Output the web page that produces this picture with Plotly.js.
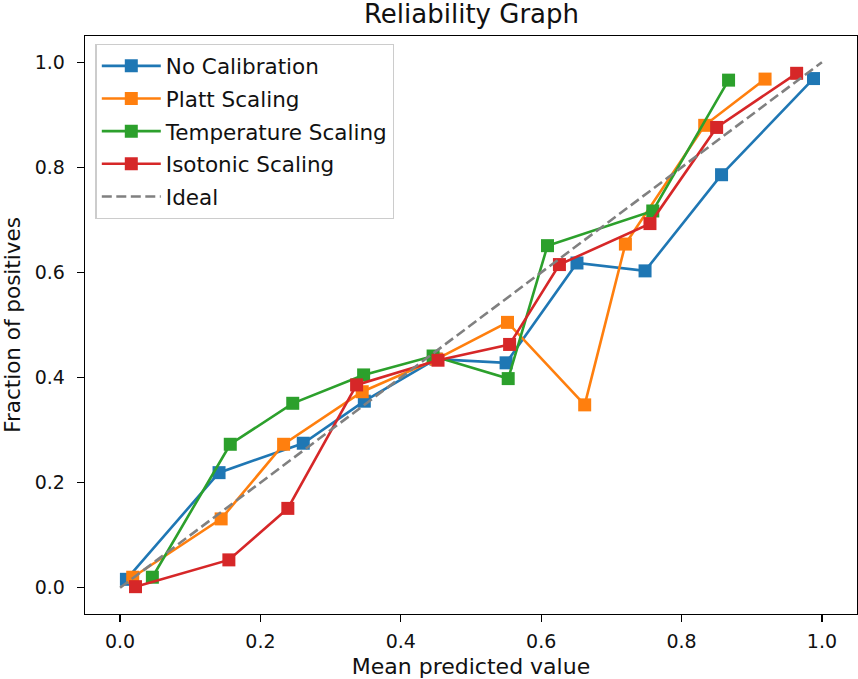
<!DOCTYPE html>
<html>
<head>
<meta charset="utf-8">
<script src="https://cdn.plot.ly/plotly-3.0.1.min.js"></script>
<style>html,body{margin:0;padding:0;overflow:hidden;background:#fff}</style>
</head>
<body>
<div id="chart" style="width:858px;height:679px"></div>
<script>
// Data
const seriesNames = ["No Calibration", "Platt Scaling", "Temperature Scaling", "Isotonic Scaling"];
const noCalX = [0.009, 0.141, 0.261, 0.348, 0.450, 0.550, 0.651, 0.748, 0.857, 0.988];
const noCalY = [0.016, 0.219, 0.275, 0.355, 0.435, 0.428, 0.618, 0.603, 0.786, 0.969];
const plattX = [0.018, 0.144, 0.233, 0.345, 0.451, 0.552, 0.662, 0.720, 0.833, 0.919];
const plattY = [0.020, 0.131, 0.273, 0.373, 0.435, 0.505, 0.348, 0.654, 0.880, 0.968];
const tempX = [0.046, 0.157, 0.246, 0.347, 0.446, 0.553, 0.609, 0.759, 0.867];
const tempY = [0.020, 0.273, 0.351, 0.405, 0.441, 0.398, 0.651, 0.717, 0.966];
const isoX = [0.022, 0.155, 0.239, 0.337, 0.453, 0.555, 0.626, 0.755, 0.850, 0.964];
const isoY = [0.002, 0.053, 0.151, 0.386, 0.433, 0.463, 0.615, 0.693, 0.876, 0.979];
const idealName = "Ideal";
const idealX = [0, 1];
const idealY = [0, 1];
const xTicks = [0.0, 0.2, 0.4, 0.6, 0.8, 1.0];
const yTicks = [0.0, 0.2, 0.4, 0.6, 0.8, 1.0];

const colors = ["#1f77b4", "#ff7f0e", "#2ca02c", "#d62728"];
const xs = [noCalX, plattX, tempX, isoX];
const ys = [noCalY, plattY, tempY, isoY];

const traces = xs.map((x, i) => ({
  x: x, y: ys[i], name: seriesNames[i], type: "scatter", mode: "lines+markers",
  legendgroup: "g" + i,
  line: {color: colors[i], width: 2.6},
  marker: {symbol: "square", size: 13, color: colors[i]}
}));
traces.push({
  x: idealX, y: idealY, name: idealName, type: "scatter", mode: "lines",
  legendgroup: "g4",
  line: {color: "#808080", width: 2.6, dash: "10px,4.5px"}
});

const font = "DejaVu Sans, sans-serif";
const axisCommon = {
  showgrid: false, zeroline: false, showline: true, mirror: true,
  linecolor: "#000", linewidth: 1.3, ticks: "outside", ticklen: 7, tickwidth: 1.3,
  tickcolor: "#000", tickformat: ".1f", tickfont: {family: font, size: 19, color: "#111"}
};

const layout = {
  width: 858, height: 679,
  margin: {l: 85, r: 1, t: 36, b: 65, pad: 0},
  paper_bgcolor: "#fff", plot_bgcolor: "#fff",
  font: {family: font, color: "#111"},
  title: {text: "Reliability Graph", font: {family: font, size: 26, color: "#111"},
          x: 0.5495, xanchor: "center", y: 1 - 14/679, yanchor: "middle", yref: "container"},
  xaxis: Object.assign({}, axisCommon, {
    range: [-0.05, 1.05], tickvals: xTicks, ticklabelstandoff: 3,
    title: {text: "Mean predicted value", font: {family: font, size: 22, color: "#111"}, standoff: 10}
  }),
  yaxis: Object.assign({}, axisCommon, {
    range: [-0.05, 1.05], tickvals: yTicks, ticklabelstandoff: 8,
    title: {text: "Fraction of positives", font: {family: font, size: 21.5, color: "#111"}, standoff: 10}
  }),
  legend: {
    x: 0.0136, y: 0.986, xanchor: "left", yanchor: "top",
    bgcolor: "rgba(255,255,255,0.8)", bordercolor: "#cccccc", borderwidth: 1.3,
    font: {family: font, size: 21.5, color: "#111"},
    traceorder: "grouped", tracegroupgap: 1.7, itemwidth: 59
  },
  showlegend: true
};

Plotly.newPlot("chart", traces, layout, {displayModeBar: false, staticPlot: true});
</script>
</body>
</html>
